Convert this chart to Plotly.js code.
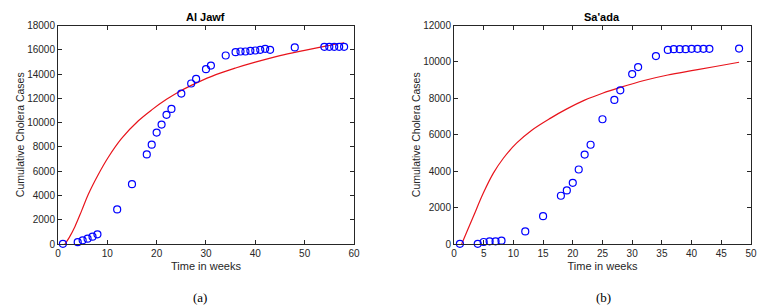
<!DOCTYPE html>
<html><head><meta charset="utf-8">
<script src="https://cdn.plot.ly/plotly-3.0.1.min.js"></script>
<style>html,body{margin:0;padding:0;background:#fff}#chart{width:767px;height:308px}</style>
</head><body><div id="chart"></div>
<script>
// Al Jawf data
const jawfWeeks = [1,4,5,6,7,8,12,15,18,19,20,21,22,23,25,27,28,30,31,34,36,37,38,39,40,41,42,43,48,54,55,56,57,58];
const jawfCases = [10,150,300,440,600,800,2850,4930,7380,8180,9180,9840,10640,11130,12390,13220,13600,14400,14700,15530,15800,15860,15860,15910,15940,16000,16080,16000,16190,16240,16240,16240,16240,16240];
const jawfFitWeeks = [1.4,2.3,3.45,4.8,6.15,8.2,10.2,12.9,16.3,19,22,25,28,32,36,40,45,50,54,58];
const jawfFitCases = [0,550,1450,2750,4100,5750,7150,8700,10150,11050,11920,12650,13250,13950,14500,14980,15520,15950,16280,16580];
// Sa'ada data
const saadaWeeks = [1,4,5,6,7,8,12,15,18,19,20,21,22,23,25,27,28,30,31,34,36,37,38,39,40,41,42,43,48];
const saadaCases = [10,10,110,145,145,180,690,1530,2650,2940,3360,4090,4910,5450,6850,7910,8440,9330,9715,10320,10660,10700,10700,10700,10720,10720,10720,10720,10730];
const saadaFitWeeks = [1.3,2.2,3.26,4.94,6.63,8.31,10.57,13.1,16.2,19,22,25,28,32,36,40,44,48];
const saadaFitCases = [0,700,1510,2795,3890,4710,5550,6250,6900,7420,7900,8280,8600,8980,9280,9520,9750,9980];

const tickFont = {family:'Liberation Sans, Arial, sans-serif', size:10, color:'#262626'};
const axTitleFont = {family:'Liberation Sans, Arial, sans-serif', size:11, color:'#262626'};
function xax(domain, max, dtick, anchor){
  return {domain:domain, range:[0,max], dtick:dtick, tick0:0, ticks:'inside', ticklen:4, tickcolor:'#262626',
    mirror:'ticks', showline:true, linecolor:'#262626', linewidth:1, showgrid:false, zeroline:false,
    tickfont:tickFont, anchor:anchor, title:{text:'Time in weeks', font:axTitleFont, standoff:4}};
}
function yax(max, anchor){
  return {domain:[0.2078,0.9172], range:[0,max], dtick:2000, tick0:0, ticks:'inside', ticklen:4, tickcolor:'#262626',
    mirror:'ticks', showline:true, linecolor:'#262626', linewidth:1, showgrid:false, zeroline:false,
    tickformat:'d', tickfont:tickFont, anchor:anchor,
    title:{text:'Cumulative Cholera Cases', font:{family:'Liberation Sans, Arial, sans-serif', size:10.5, color:'#262626'}, standoff:0}};
}
const marker = {symbol:'circle-open', size:7, color:'#0000ff', line:{width:1.2, color:'#0000ff'}};
const line = {color:'#e8141c', width:1.2, shape:'spline', smoothing:1};
const data = [
  {x:jawfFitWeeks, y:jawfFitCases, mode:'lines', line:line, xaxis:'x', yaxis:'y', hoverinfo:'skip'},
  {x:jawfWeeks, y:jawfCases, mode:'markers', marker:marker, xaxis:'x', yaxis:'y', cliponaxis:false},
  {x:saadaFitWeeks, y:saadaFitCases, mode:'lines', line:line, xaxis:'x2', yaxis:'y2', hoverinfo:'skip'},
  {x:saadaWeeks, y:saadaCases, mode:'markers', marker:marker, xaxis:'x2', yaxis:'y2', cliponaxis:false}
];
const layout = {
  width:767, height:308, margin:{l:0,r:0,t:0,b:0}, showlegend:false,
  paper_bgcolor:'#fff', plot_bgcolor:'#fff',
  xaxis: xax([0.0756,0.4615], 60, 10, 'y'),
  yaxis: yax(18000, 'x'),
  xaxis2: xax([0.5919,0.9791], 50, 5, 'y2'),
  yaxis2: yax(12000, 'x2'),
  annotations:[
    {text:'<b>Al Jawf</b>', x:0.2685, y:0.9172, xref:'paper', yref:'paper', xanchor:'center', yanchor:'bottom', yshift:1, showarrow:false, font:{family:'Liberation Sans, Arial, sans-serif', size:11, color:'#000'}},
    {text:"<b>Sa'ada</b>", x:0.7855, y:0.9172, xref:'paper', yref:'paper', xanchor:'center', yanchor:'bottom', yshift:1, showarrow:false, font:{family:'Liberation Sans, Arial, sans-serif', size:11, color:'#000'}},
    {text:'(a)', x:200/767, y:1-297/308, xref:'paper', yref:'paper', xanchor:'center', yanchor:'middle', showarrow:false, font:{family:'Liberation Serif, Times New Roman, serif', size:13, color:'#000'}},
    {text:'(b)', x:603/767, y:1-297/308, xref:'paper', yref:'paper', xanchor:'center', yanchor:'middle', showarrow:false, font:{family:'Liberation Serif, Times New Roman, serif', size:13, color:'#000'}}
  ]
};
Plotly.newPlot('chart', data, layout, {displayModeBar:false, staticPlot:true});
</script></body></html>
